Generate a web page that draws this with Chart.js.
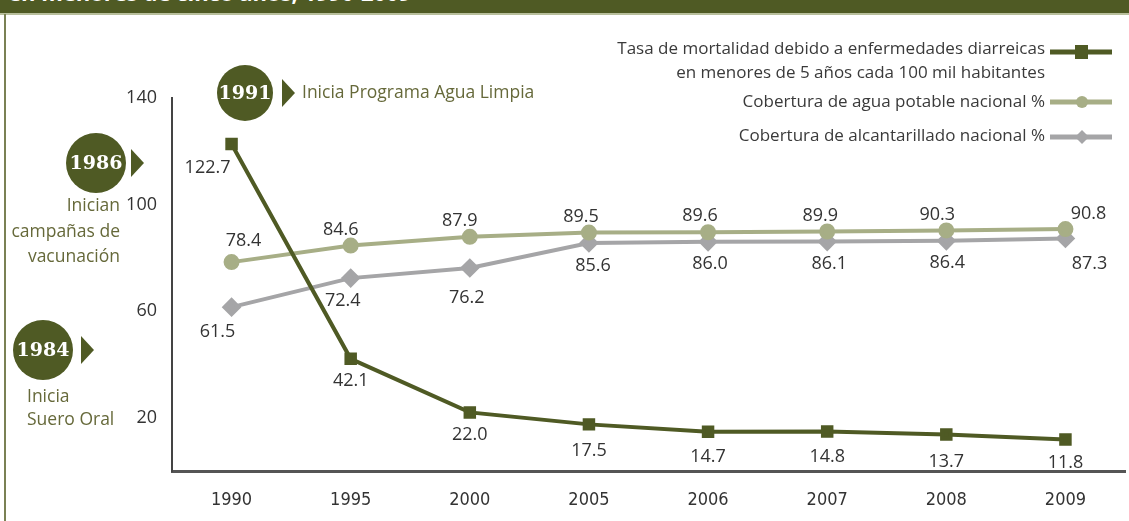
<!DOCTYPE html>
<html><head><meta charset="utf-8">
<script src="https://cdn.jsdelivr.net/npm/chart.js@4.4.1/dist/chart.umd.min.js"></script>
<style>
html,body{margin:0;padding:0;background:#fff;width:1129px;height:521px;overflow:hidden;position:relative;font-family:"Open Sans",sans-serif;}
#hdr{position:absolute;left:0;top:0;width:1129px;height:13px;background:#4f5a24;overflow:hidden;}
#hdr span{position:absolute;left:8px;top:-23px;font:bold 22px "Open Sans",sans-serif;color:#fff;white-space:nowrap;}
#hdrline{position:absolute;left:0;top:13px;width:1129px;height:2px;background:#b8bf9c;}
#lborder{position:absolute;left:4px;top:14px;width:2px;height:507px;background:#7a8154;}
#wrap{position:absolute;left:0;top:0;width:1136px;height:521px;}
</style></head>
<body>
<div id="hdr"><span>en menores de cinco años, 1990-2009</span></div>
<div id="hdrline"></div>
<div id="lborder"></div>
<div id="wrap"><canvas id="c" width="1136" height="521"></canvas></div>
<script>
const categories = ["1990","1995","2000","2005","2006","2007","2008","2009"];
const mortalidad = [122.7, 42.1, 22.0, 17.5, 14.7, 14.8, 13.7, 11.8];
const aguaPotable = [78.4, 84.6, 87.9, 89.5, 89.6, 89.9, 90.3, 90.8];
const alcantarillado = [61.5, 72.4, 76.2, 85.6, 86.0, 86.1, 86.4, 87.3];
const yTickLabels = [20, 60, 100, 140];

const OLIVE = '#4f5a24';
const LIGHT = '#a7ae86';
const GRAY = '#a5a5a7';

// label offsets (style only)
const offs = [
  {dx:[-24,0,0,0,0,0,0,0], dy:[24,22,22,26,25,25,27,23]},
  {dx:[12,-10,-10,-8,-8,-7,-9,23], dy:[-21,-16,-16,-16,-16,-16,-16,-15]},
  {dx:[-14,-8,-3,4,2,2,1,24], dy:[25,23,30,23,22,22,22,25]}
];

const labelPlugin = {
  id:'labels',
  afterDatasetsDraw(chart){
    const ctx = chart.ctx;
    ctx.save();
    ctx.font = '18px "Open Sans", sans-serif';
    ctx.fillStyle = '#333';
    ctx.textAlign = 'center';
    ctx.textBaseline = 'middle';
    chart.data.datasets.forEach((ds, i) => {
      const meta = chart.getDatasetMeta(i);
      meta.data.forEach((pt, j) => {
        ctx.fillText(ds.data[j].toFixed(1), pt.x + offs[i].dx[j], pt.y + offs[i].dy[j]);
      });
    });
    ctx.restore();
  }
};

function badge(ctx, cx, cy, r, year, tx, ty){
  ctx.fillStyle = OLIVE;
  ctx.beginPath(); ctx.arc(cx, cy, r, 0, Math.PI*2); ctx.fill();
  ctx.beginPath(); ctx.moveTo(tx, ty-14); ctx.lineTo(tx+13, ty); ctx.lineTo(tx, ty+14); ctx.closePath(); ctx.fill();
  ctx.fillStyle = '#fff';
  ctx.font = 'bold 19px "DejaVu Serif", serif';
  ctx.textAlign = 'center'; ctx.textBaseline = 'middle';
  ctx.fillText(year, cx, cy+1);
}

const decoPlugin = {
  id:'deco',
  afterDraw(chart){
    const ctx = chart.ctx;
    ctx.save();
    // legend
    ctx.font = '17px "Open Sans", sans-serif';
    ctx.fillStyle = '#3a3a3a';
    ctx.textAlign = 'right'; ctx.textBaseline = 'middle';
    ctx.fillText('Tasa de mortalidad debido a enfermedades diarreicas', 1045, 49);
    ctx.fillText('en menores de 5 años cada 100 mil habitantes', 1045, 73);
    ctx.fillText('Cobertura de agua potable nacional %', 1045, 102);
    ctx.fillText('Cobertura de alcantarillado nacional %', 1045, 136);
    ctx.lineCap = 'butt';
    // mortality symbol
    ctx.strokeStyle = OLIVE; ctx.lineWidth = 5;
    ctx.beginPath(); ctx.moveTo(1050, 52); ctx.lineTo(1112, 52); ctx.stroke();
    ctx.fillStyle = OLIVE; ctx.fillRect(1075, 45, 13, 14);
    // water
    ctx.strokeStyle = LIGHT; ctx.lineWidth = 5;
    ctx.beginPath(); ctx.moveTo(1050, 102); ctx.lineTo(1112, 102); ctx.stroke();
    ctx.fillStyle = LIGHT; ctx.beginPath(); ctx.arc(1082, 102, 6, 0, Math.PI*2); ctx.fill();
    // sewer
    ctx.strokeStyle = GRAY; ctx.lineWidth = 5;
    ctx.beginPath(); ctx.moveTo(1050, 137); ctx.lineTo(1112, 137); ctx.stroke();
    ctx.fillStyle = GRAY; ctx.beginPath();
    ctx.moveTo(1082, 130); ctx.lineTo(1089, 137); ctx.lineTo(1082, 144); ctx.lineTo(1075, 137); ctx.closePath(); ctx.fill();

    // badges
    badge(ctx, 245, 93, 28, '1991', 282, 93);
    badge(ctx, 96, 163, 30, '1986', 131, 163);
    badge(ctx, 43, 350, 30, '1984', 81, 350);
    ctx.fillStyle = '#66693a';
    ctx.font = '17.5px "Open Sans", sans-serif';
    ctx.textBaseline = 'middle';
    ctx.textAlign = 'left';
    ctx.fillText('Inicia Programa Agua Limpia', 302, 93);
    ctx.textAlign = 'right';
    ctx.fillText('Inician', 120, 206);
    ctx.fillText('campañas de', 120, 232);
    ctx.fillText('vacunación', 120, 257);
    ctx.textAlign = 'left';
    ctx.fillText('Inicia', 27, 397);
    ctx.fillText('Suero Oral', 27, 420);
    ctx.restore();
  }
};

new Chart(document.getElementById('c'), {
  type:'line',
  data:{
    labels: categories,
    datasets:[
      {label:'Tasa de mortalidad', data: mortalidad, borderColor: OLIVE, backgroundColor: OLIVE, borderWidth:4,
       pointStyle:'rect', pointRadius:6, pointHoverRadius:6, tension:0},
      {label:'Agua potable', data: aguaPotable, borderColor: LIGHT, backgroundColor: LIGHT, borderWidth:4,
       pointStyle:'circle', pointRadius:6, pointHoverRadius:6, tension:0},
      {label:'Alcantarillado', data: alcantarillado, borderColor: GRAY, backgroundColor: GRAY, borderWidth:4,
       pointStyle:'rectRot', pointRadius:7, pointHoverRadius:7, tension:0}
    ]
  },
  options:{
    responsive:false, animation:false, devicePixelRatio:1,
    layout:{padding:{top:98, right:0, left:0, bottom:0}},
    plugins:{legend:{display:false}, tooltip:{enabled:false}},
    scales:{
      x:{
        offset:true,
        grid:{display:false},
        border:{display:true, color:'#555', width:3},
        ticks:{color:'#333', padding:11, font:{family:'"DejaVu Sans Condensed","Liberation Sans Narrow","Open Sans",sans-serif', size:18}},
        afterFit(s){ s.height = 50; }
      },
      y:{
        min:0, max:140,
        grid:{display:false},
        border:{display:true, color:'#444', width:2},
        ticks:{stepSize:20, color:'#333', padding:7,
          font:{family:'"Open Sans",sans-serif', size:18},
          callback:(v)=> yTickLabels.includes(v) ? String(v) : ''},
        afterFit(s){ s.width = 172; }
      }
    }
  },
  plugins:[labelPlugin, decoPlugin]
});
</script>
</body></html>
